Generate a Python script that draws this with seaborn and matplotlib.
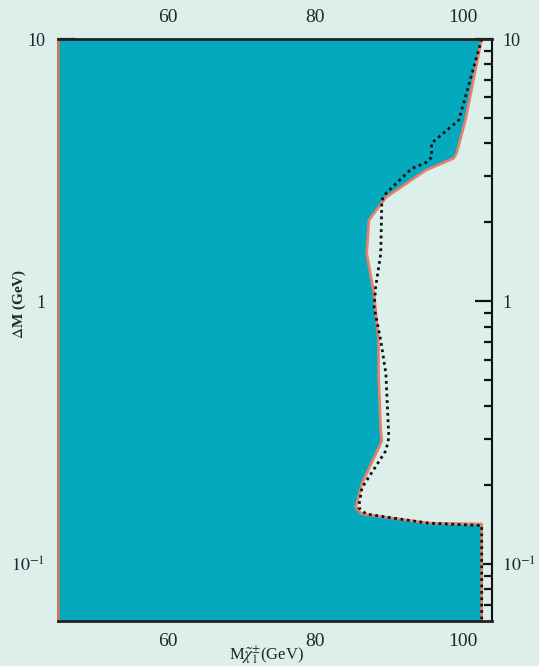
import numpy as np
import pandas as pd
import matplotlib
matplotlib.use("Agg")
import matplotlib.pyplot as plt
import seaborn as sns
from matplotlib.ticker import FixedLocator, FixedFormatter, NullFormatter

# --- data ---
excl_mass = [102.6, 100.4, 99.2, 98.8, 95.0, 89.6, 87.3, 87.0, 88.0, 88.6, 88.6,
             88.9, 89.05, 86.35, 85.5, 86.35, 90.9, 95.4, 102.6, 102.6]
excl_dm = [10.0, 4.91, 3.67, 3.51, 3.16, 2.49, 2.04, 1.52, 1.07, 0.71, 0.531,
           0.322, 0.294, 0.202, 0.164, 0.155, 0.149, 0.143, 0.142, 0.06]

exp_mass = [102.6, 99.5, 95.8, 95.8, 95.0, 93.1, 89.6, 89.05, 88.9, 88.2, 88.0,
            88.9, 89.6, 90.0, 89.6, 86.35, 85.9, 86.9, 90.9, 95.4, 102.6, 102.6]
exp_dm = [10.0, 4.91, 4.01, 3.54, 3.38, 3.21, 2.58, 2.43, 1.52, 1.13, 0.95,
          0.71, 0.531, 0.303, 0.270, 0.195, 0.164, 0.155, 0.149, 0.143, 0.140, 0.06]

x_major = [60, 80, 100]
x_minor = [50, 70, 90]
y_major = [0.1, 1, 10]
y_major_labels = ["$10^{-1}$", "1", "10"]
y_minor = [k * 10.0 ** e for e in (-2, -1, 0) for k in range(2, 10)]

XLIM = (45.1, 104.0)
YLIM = (0.0606, 10.0)

BG = "#ddefeb"
TEAL = "#05a9bd"
SALMON = "#e8806a"
TXT = "#1a2a2a"

sns.set_theme(style="white")
plt.rcParams["font.family"] = ["Liberation Serif", "DejaVu Serif"]
plt.rcParams["mathtext.fontset"] = "stix"

fig = plt.figure(figsize=(5.39, 6.66), dpi=100, facecolor=BG)
ax = fig.add_axes([58 / 539, 1 - 621 / 666, 434 / 539, 582 / 666])
ax.set_facecolor(BG)
ax.set_yscale("log")

# filled excluded region
ax.fill_betweenx(excl_dm, XLIM[0], excl_mass, color=TEAL, linewidth=0, zorder=1)

df_excl = pd.DataFrame({"m": excl_mass, "dm": excl_dm})
df_exp = pd.DataFrame({"m": exp_mass, "dm": exp_dm})
sns.lineplot(data=df_excl, x="m", y="dm", sort=False, estimator=None, ax=ax,
             color=SALMON, linewidth=1.9, zorder=3)
sns.lineplot(data=df_exp, x="m", y="dm", sort=False, estimator=None, ax=ax,
             color="#111111", linewidth=2.0, linestyle=(0, (1, 1.3)), zorder=4)

ax.set_xlim(*XLIM)
ax.set_ylim(*YLIM)

# spines
ax.spines["left"].set_color("#b97f62")
ax.spines["left"].set_linewidth(2.2)
for s in ("top", "bottom"):
    ax.spines[s].set_color("#222222")
    ax.spines[s].set_linewidth(2.0)
    ax.spines[s].set_linestyle((0, (1, 1)))
ax.spines["right"].set_color("#111111")
ax.spines["right"].set_linewidth(1.5)
for s in ax.spines.values():
    s.set_zorder(5)

ax.xaxis.set_major_locator(FixedLocator(x_major))
ax.xaxis.set_minor_locator(FixedLocator(x_minor))
ax.yaxis.set_major_locator(FixedLocator(y_major))
ax.yaxis.set_major_formatter(FixedFormatter(y_major_labels))
ax.yaxis.set_minor_locator(FixedLocator(y_minor))
ax.yaxis.set_minor_formatter(NullFormatter())

ax.tick_params(axis="x", which="both", direction="in", top=True, bottom=True,
               labeltop=True, labelbottom=True, colors="#111111",
               labelsize=14, labelcolor=TXT)
ax.tick_params(axis="x", which="major", length=9, width=1.6, pad=9)
ax.tick_params(axis="x", which="minor", length=5, width=1.6)
ax.tick_params(axis="y", which="both", direction="in", left=True, right=True,
               labelleft=True, labelright=True, colors="#111111",
               labelsize=13, labelcolor=TXT)
ax.tick_params(axis="y", which="major", length=12, width=1.6, pad=9)
ax.tick_params(axis="y", which="minor", length=6, width=1.6)
# right labels placed just right of the spine
for t in ax.yaxis.get_major_ticks():
    t.label2.set_x(0.995)
    t.label2.set_horizontalalignment("left")

ax.set_xlabel("M$\\tilde{\\chi}_1^{\\pm}$(GeV)", fontsize=12, color=TXT)
ax.xaxis.set_label_coords(0.48, -0.038)
ax.set_ylabel("$\\Delta$M (GeV)", fontsize=11, color=TXT, fontweight="semibold")
ax.yaxis.set_label_coords(-0.069, 0.545)

fig.savefig("out.png", dpi=100, facecolor=BG)
